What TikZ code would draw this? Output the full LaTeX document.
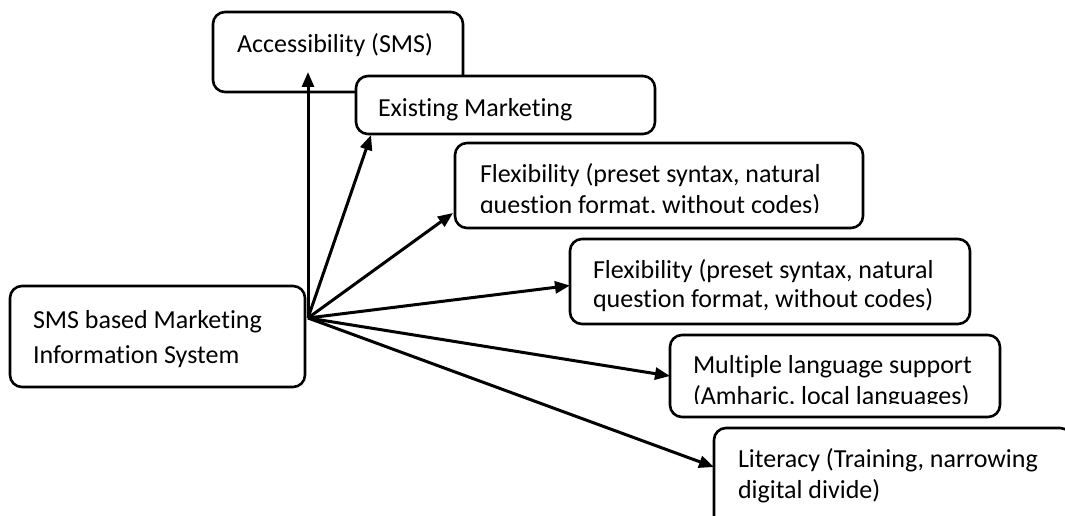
\documentclass[tikz,border=0pt]{standalone}
\usepackage{fontspec}
\setmainfont{Carlito}[Ligatures=NoCommon]
\usetikzlibrary{arrows.meta}
\tikzset{
  box/.style={draw, line width=2.6pt, rounded corners=12pt, fill=white,
    anchor=north west, inner sep=0pt, outer sep=0pt},
  txt/.style={anchor=base west, inner sep=0pt, outer sep=0pt,
    minimum width=0pt, minimum height=0pt, draw=none, fill=none,
    font=\fontsize{26pt}{31pt}\selectfont},
  arr/.style={line width=3pt, -{Triangle[length=15pt,width=12pt]}},
}
\begin{document}
\begin{tikzpicture}[x=1pt,y=1pt]
\useasboundingbox (0,0) rectangle (1065,-516);
% Accessibility
\node[box, minimum width=250pt, minimum height=80pt,
  path picture={
    \node[txt] at ([shift={(24pt,-41pt)}]path picture bounding box.north west) {Accessibility (SMS)};
  }] (acc) at (213,-12) {};
% Existing Marketing
\node[box, minimum width=299pt, minimum height=58pt,
  path picture={
    \node[txt] at ([shift={(22pt,-41pt)}]path picture bounding box.north west) {Existing Marketing};
  }] (ext) at (356,-76) {};
% Flexibility 1
\node[box, minimum width=408pt, minimum height=85pt,
  path picture={
    \clip (path picture bounding box.north west) rectangle ([yshift=16pt]path picture bounding box.south east);
    \node[txt] at ([shift={(25pt,-39pt)}]path picture bounding box.north west) {Flexibility (preset syntax, natural};
    \node[txt] at ([shift={(25pt,-70pt)}]path picture bounding box.north west) {question format, without codes)};
  }] (flexa) at (455,-143) {};
% Flexibility 2
\node[box, minimum width=400pt, minimum height=85pt,
  path picture={
    \node[txt] at ([shift={(23pt,-39pt)}]path picture bounding box.north west) {Flexibility (preset syntax, natural};
    \node[txt] at ([shift={(23pt,-68pt)}]path picture bounding box.north west) {question format, without codes)};
  }] (flexb) at (570,-239) {};
% Multiple language
\node[box, minimum width=330pt, minimum height=82pt,
  path picture={
    \clip (path picture bounding box.north west) rectangle ([yshift=14pt]path picture bounding box.south east);
    \node[txt] at ([shift={(23pt,-38pt)}]path picture bounding box.north west) {Multiple language support};
    \node[txt] at ([shift={(23pt,-69pt)}]path picture bounding box.north west) {(Amharic, local languages)};
  }] (multi) at (670,-335) {};
% Literacy
\node[box, minimum width=358pt, minimum height=112pt,
  path picture={
    \node[txt] at ([shift={(24pt,-39pt)}]path picture bounding box.north west) {Literacy (Training, narrowing};
    \node[txt] at ([shift={(24pt,-70pt)}]path picture bounding box.north west) {digital divide)};
  }] (lit) at (714,-428) {};
% SMS based MIS
\node[box, minimum width=295pt, minimum height=101pt,
  path picture={
    \node[txt] at ([shift={(23pt,-42pt)}]path picture bounding box.north west) {SMS based Marketing};
    \node[txt] at ([shift={(23pt,-77pt)}]path picture bounding box.north west) {Information System};
  }] (sms) at (10,-286) {};
% source point on the SMS box
\coordinate (src) at (308,-318);
% connectors
\draw[arr] (src) -- ([yshift=20pt]acc.south -| src);
\draw[arr] (src) -- ([xshift=15pt,yshift=-1pt]ext.south west);
\draw[arr] (src) -- ([xshift=-2pt,yshift=15pt]flexa.south west);
\draw[arr] (src) -- ([yshift=-4pt]flexb.west);
\draw[arr] (src) -- (multi.west);
\draw[arr] (src) -- ([yshift=-39pt]lit.north west);
\end{tikzpicture}
\end{document}
